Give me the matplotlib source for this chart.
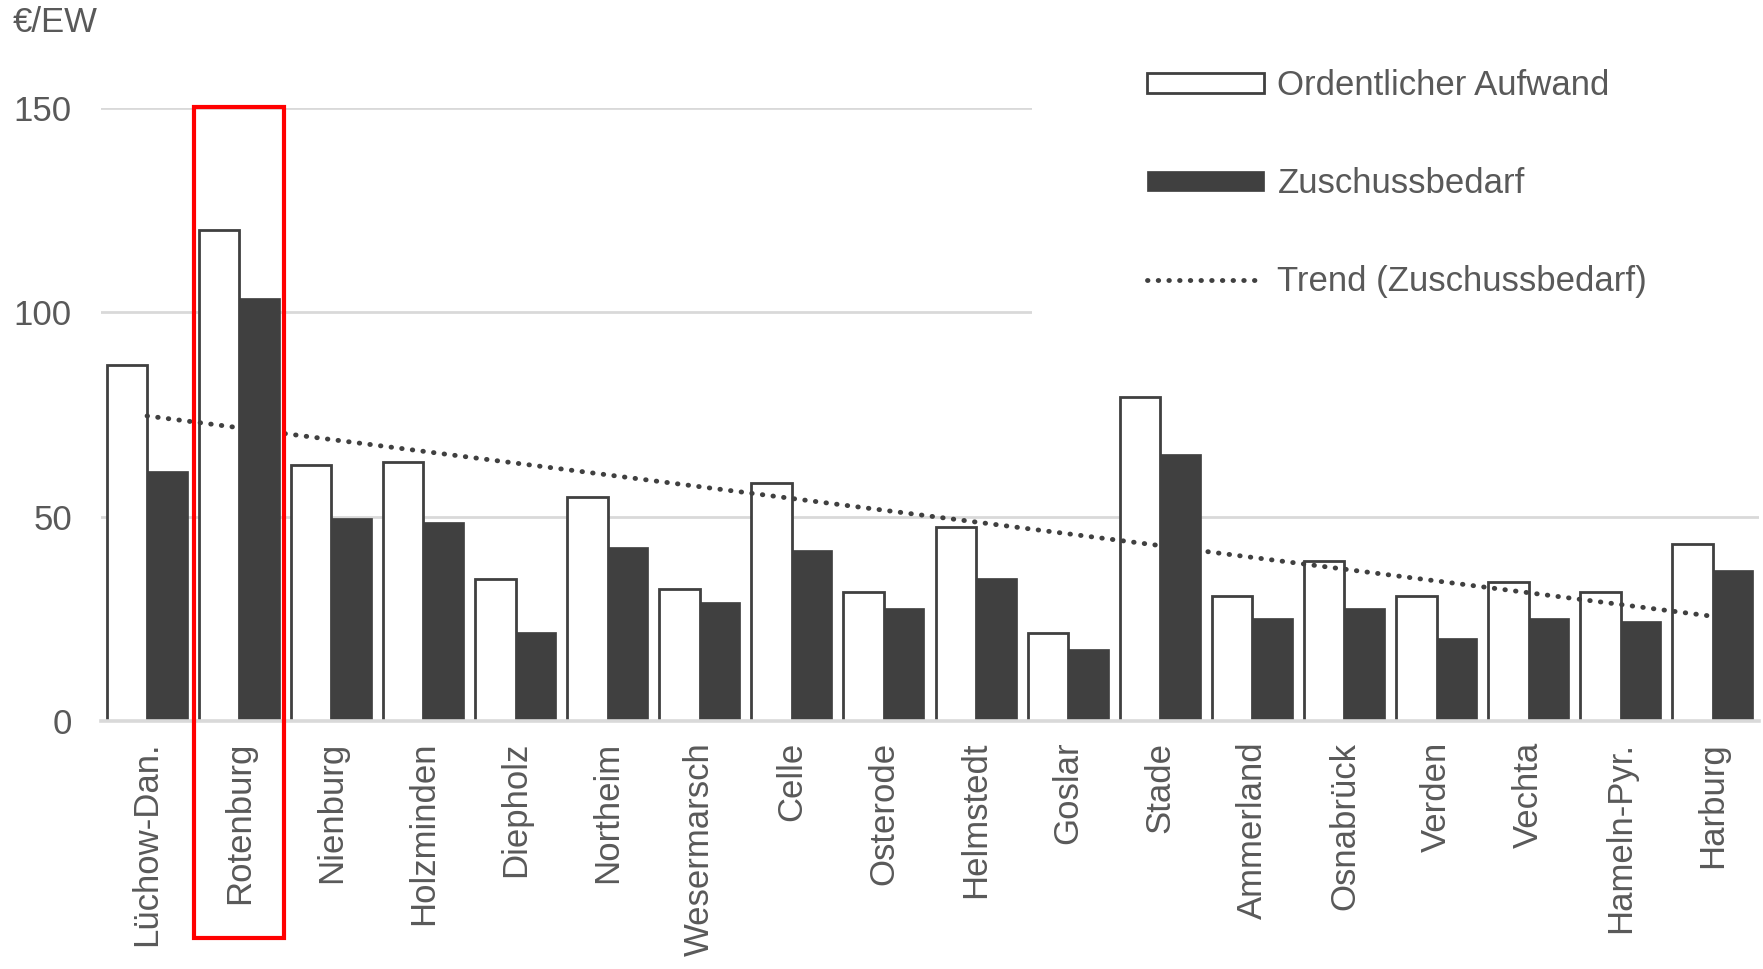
import numpy as np
import matplotlib
matplotlib.use('Agg')
from matplotlib import pyplot as plt
from matplotlib.patches import Rectangle

plt.rcParams['font.family'] = ['Liberation Sans', 'DejaVu Sans']

landkreise = ['Lüchow-Dan.', 'Rotenburg', 'Nienburg', 'Holzminden', 'Diepholz',
              'Northeim', 'Wesermarsch', 'Celle', 'Osterode', 'Helmstedt', 'Goslar',
              'Stade', 'Ammerland', 'Osnabrück', 'Verden', 'Vechta', 'Hameln-Pyr.',
              'Harburg']
aufwand = [87.0, 120.1, 62.6, 63.4, 34.7, 54.9, 32.4, 58.3, 31.5, 47.6, 21.6,
           79.3, 30.6, 39.1, 30.6, 34.1, 31.5, 43.2]
zuschuss = [61.1, 103.6, 49.6, 48.8, 21.8, 42.7, 29.2, 41.9, 27.6, 35.0, 17.6,
            65.3, 25.1, 27.6, 20.3, 25.2, 24.4, 36.9]
yticks = [0, 50, 100, 150]
markiert = 'Rotenburg'

grau = '#595959'
dunkel = '#404040'
fs = 25

fig = plt.figure(figsize=(17.63, 9.69), dpi=100)
ax = fig.add_axes([0.0573, 0.2559, 0.9404, 0.6326])

x = np.arange(len(landkreise))
w = 0.44
b1 = ax.bar(x - w / 2, aufwand, w, color='white', edgecolor=dunkel, linewidth=2,
            label='Ordentlicher Aufwand', zorder=2)
b2 = ax.bar(x + w / 2, zuschuss, w, color=dunkel, edgecolor=dunkel, linewidth=0.5,
            label='Zuschussbedarf', zorder=2)

# lineare Trendlinie (Excel-Trend)
k, d = np.polyfit(x, aufwand, 1)
tr, = ax.plot(x, k * x + d, color=dunkel, lw=3.5, linestyle=(0, (0.1, 2.1)),
              dash_capstyle='round', label='Trend (Zuschussbedarf)', zorder=3)

ax.set_xlim(-0.5, len(landkreise) - 0.5)
ax.set_ylim(0, 150)
ax.set_yticks(yticks)
ax.set_xticks(x)
ax.set_xticklabels(landkreise, rotation=90)
ax.tick_params(axis='both', length=0, labelsize=fs, labelcolor=grau)
ax.tick_params(axis='x', pad=15)
ax.tick_params(axis='y', pad=21)
ax.yaxis.grid(True, color='#d9d9d9', lw=2)
ax.set_axisbelow(True)
for s in ['top', 'right', 'left']:
    ax.spines[s].set_visible(False)
ax.spines['bottom'].set_color('#d9d9d9')
ax.spines['bottom'].set_linewidth(2.6)

i = landkreise.index(markiert)
ax.add_patch(Rectangle((i - 0.49, -53), 0.98, 203.2, fill=False, edgecolor='red',
                       lw=3, clip_on=False, zorder=5))

leg = ax.legend([b1, b2, tr], [b1.get_label(), b2.get_label(), tr.get_label()],
                loc='upper left', bbox_to_anchor=(1032 / 1763, 1.047),
                bbox_transform=fig.transFigure, fontsize=fs, frameon=True,
                facecolor='white', edgecolor='none', framealpha=1, fancybox=False,
                borderpad=3.3, borderaxespad=0, handlelength=3.37, handleheight=0.5,
                handletextpad=0.4, labelspacing=1.87, labelcolor=grau)
leg.set_zorder(1.5)

fig.text(13 / 1763, 1 - 22 / 969, '€/EW', fontsize=fs, color=grau, va='center', ha='left')

fig.savefig('out.png', dpi=100)
